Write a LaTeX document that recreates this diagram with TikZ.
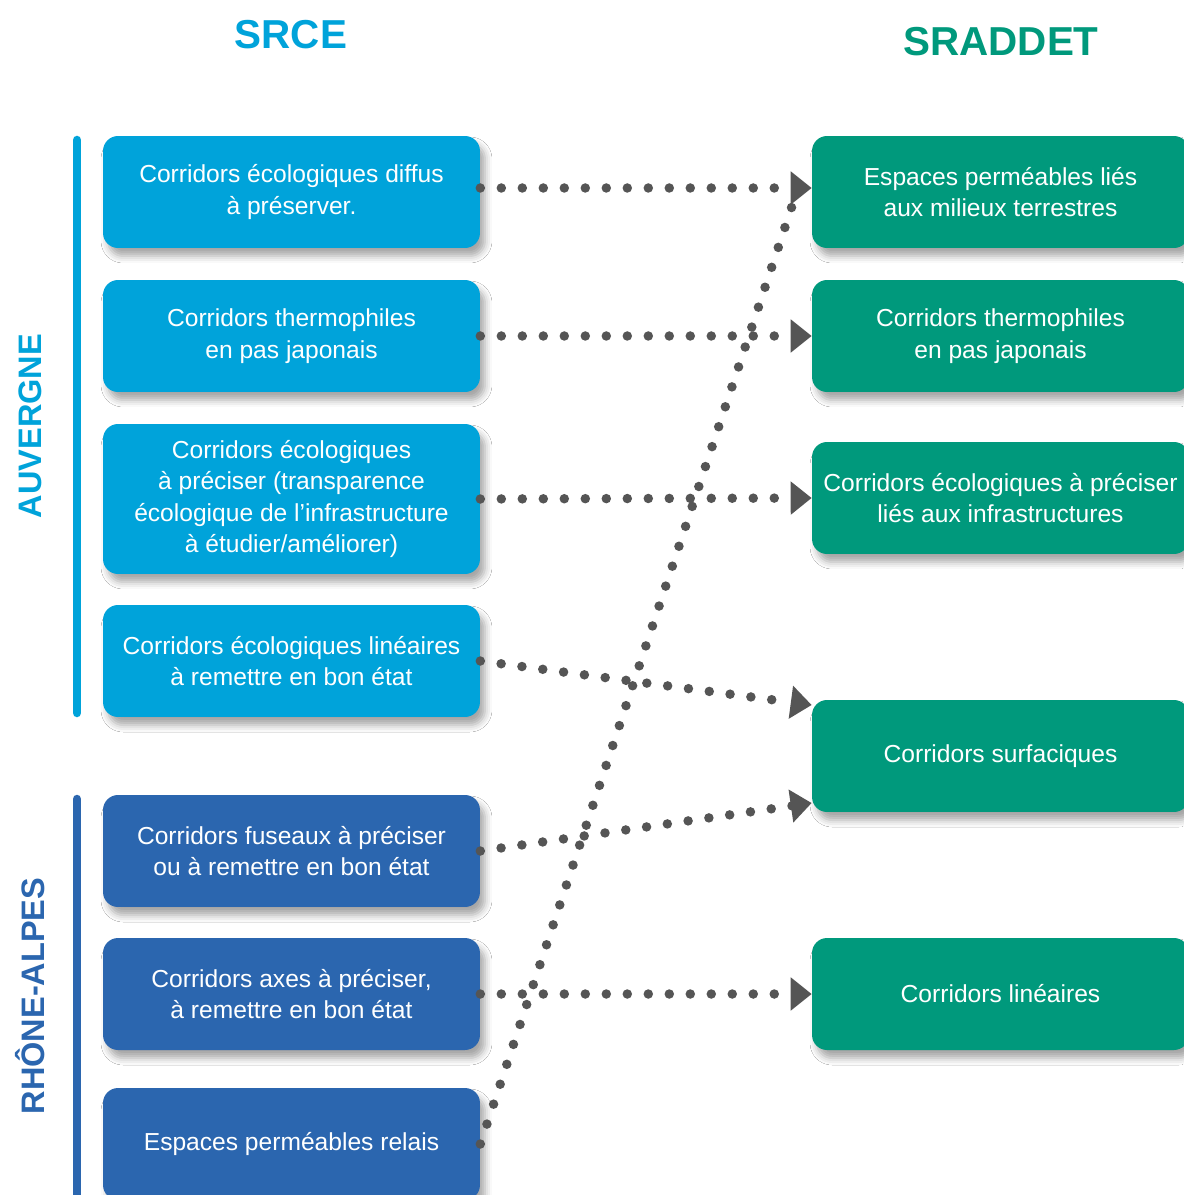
\documentclass[tikz,border=0pt]{standalone}
\usepackage{fontspec}
\setmainfont{Liberation Sans}
\usetikzlibrary{arrows.meta,shadows.blur,calc}
\definecolor{auv}{RGB}{0,163,218}
\definecolor{rha}{RGB}{43,102,175}
\definecolor{grn}{RGB}{0,153,124}
\definecolor{dotc}{RGB}{85,85,85}
\tikzset{
  card/.style={rectangle, rounded corners=0.3cm, minimum width=7.54cm, minimum height=2.24cm,
    text=white, align=center, inner sep=0pt, font=\fontsize{14}{18}\selectfont,
    blur shadow={shadow xshift=0.1cm, shadow yshift=-0.16cm, shadow blur radius=0.14cm, shadow blur extra rounding=0.1cm, shadow opacity=35}},
  auvcard/.style={card, fill=auv},
  rhacard/.style={card, fill=rha},
  grncard/.style={card, fill=grn},
  dotline/.style={draw=dotc, line width=0.19cm, line cap=round, dash pattern=on 0pt off 0.42cm},
  link/.style={dotline, -{Triangle[length=0.42cm, width=0.64cm, fill=dotc]}},
  side/.style={line width=0.17cm, line cap=round},
  title/.style={font=\fontsize{23}{27}\selectfont\bfseries},
  region/.style={rotate=90, font=\fontsize{18.5}{22}\selectfont\bfseries}
}
\begin{document}
\begin{tikzpicture}[x=0.02cm, y=-0.02cm]
\useasboundingbox[fill=white] (0,0) rectangle (1183,1195);
% titles
\node[title, text=auv] (srce) at (291,35) {SRCE};
\node[title, text=grn] (sraddet) at (1001,42) {SRADDET};
% side bars and region labels
\draw[side, auv] (77,140) -- (77,713);
\draw[side, rha] (77,799) -- (77,1200);
\node[region, text=auv] (auvl) at (30,426) {AUVERGNE};
\node[region, text=rha] (rhal) at (30,996) {RHÔNE-ALPES};
% left boxes
\node[auvcard] (L1) at (291.5,192) {Corridors écologiques diffus\\à préserver.};
\node[auvcard] (L2) at (291.5,336) {Corridors thermophiles\\en pas japonais};
\node[auvcard, minimum height=3cm] (L3) at (291.5,499) {Corridors écologiques\\à préciser (transparence\\écologique de l’infrastructure\\à étudier/améliorer)};
\node[auvcard] (L4) at (291.5,661) {Corridors écologiques linéaires\\à remettre en bon état};
\node[rhacard] (L5) at (291.5,851) {Corridors fuseaux à préciser\\ou à remettre en bon état};
\node[rhacard] (L6) at (291.5,994) {Corridors axes à préciser,\\à remettre en bon état};
\node[rhacard] (L7) at (291.5,1144) {Espaces perméables relais};
% right boxes
\node[grncard] (R1) at (1000.5,192) {Espaces perméables liés\\aux milieux terrestres};
\node[grncard] (R2) at (1000.5,336) {Corridors thermophiles\\en pas japonais};
\node[grncard] (R3) at (1000.5,498) {Corridors écologiques à préciser\\liés aux infrastructures};
\node[grncard] (R4) at (1000.5,756) {Corridors surfaciques};
\node[grncard] (R5) at (1000.5,994) {Corridors linéaires};
% tip coordinates
\coordinate (t1) at ([yshift=0.08cm]R1.west);
\coordinate (t4) at ([yshift=1.02cm]R4.west);
\coordinate (t5) at ([yshift=-0.94cm]R4.west);
\coordinate (e7) at ([xshift=-0.34cm, yshift=-0.12cm]R1.west);
% connectors
\draw[dotline] (L7.east) -- (e7);
\draw[link] ([yshift=0.08cm]L1.east) -- (t1);
\draw[link] (L2.east) -- (R2.west);
\draw[link] (L3.east) -- (R3.west);
\draw[link] (L4.east) -- (t4);
\draw[link] (L5.east) -- (t5);
\draw[link] (L6.east) -- (R5.west);
\end{tikzpicture}
\end{document}
